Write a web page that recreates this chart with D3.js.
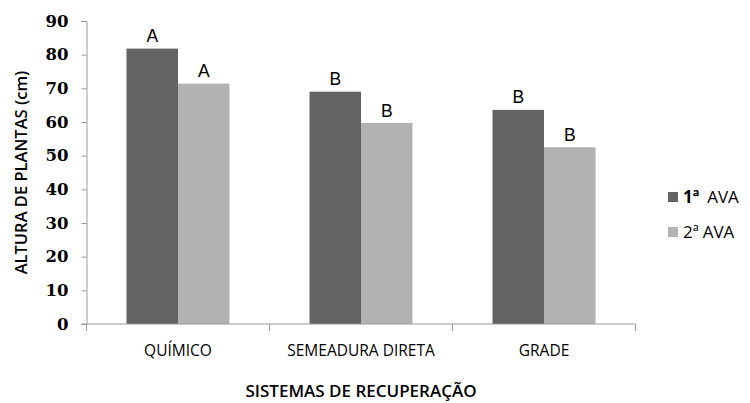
<!DOCTYPE html>
<html><head><meta charset="utf-8">
<script src="https://cdn.jsdelivr.net/npm/d3@7"></script>
<style>body{margin:0;background:#fff}svg{display:block}</style>
</head><body>
<svg id="c" width="750" height="403"></svg>
<script>
const categories = ["QUÍMICO", "SEMEADURA DIRETA", "GRADE"];
const seriesNames = ["1ª AVA", "2ª AVA"];
const ava1 = [81.8, 69.0, 63.6];
const ava2 = [71.4, 59.7, 52.5];
const letters1 = ["A", "B", "B"];
const letters2 = ["A", "B", "B"];
const yTicks = [0, 10, 20, 30, 40, 50, 60, 70, 80, 90];
const colors = ["#636363", "#b2b2b2"];

const svg = d3.select("#c");
const L = 86.5, R = 635.5, T = 21, B = 324;
const x0 = d3.scaleBand().domain(categories).range([L, R]).padding(0);
const x1 = d3.scaleBand().domain(seriesNames).range([0, x0.bandwidth()]).paddingInner(0).paddingOuter(0.777);
const y = d3.scaleLinear().domain([0, 90]).range([B, T]);
const axisCol = "#9a9a9a";

// y axis
const ya = svg.append("g").attr("transform", `translate(${L},0)`)
  .call(d3.axisLeft(y).tickValues(yTicks).tickSize(5).tickPadding(13).tickFormat(d3.format("d")));
ya.select(".domain").attr("stroke", axisCol);
ya.selectAll(".tick line").attr("stroke", axisCol);
ya.selectAll(".tick text").attr("font-family", "DejaVu Serif").attr("font-weight", "bold")
  .attr("font-size", 16.5).attr("fill", "#000");

// bars
const data = categories.map((c, i) => ({c, v: [ava1[i], ava2[i]], l: [letters1[i], letters2[i]]}));
const g = svg.append("g");
data.forEach(d => {
  seriesNames.forEach((s, j) => {
    g.append("rect").attr("x", x0(d.c) + x1(s)).attr("y", y(d.v[j]))
      .attr("width", x1.bandwidth()).attr("height", y(0) - y(d.v[j])).attr("fill", colors[j]);
    g.append("text").attr("x", x0(d.c) + x1(s) + x1.bandwidth() / 2).attr("y", y(d.v[j]) - 6.5)
      .attr("text-anchor", "middle").attr("font-family", "Liberation Sans").attr("font-size", 17.5)
      .attr("fill", "#000").text(d.l[j]);
  });
});

// x axis
const xa = svg.append("g").attr("transform", `translate(0,${B})`)
  .call(d3.axisBottom(x0).tickSize(0).tickPadding(21));
xa.select(".domain").remove();
xa.selectAll(".tick text").attr("font-family", "Open Sans").attr("font-size", 15.5).attr("fill", "#000");
svg.append("line").attr("x1", L - 5).attr("x2", R).attr("y1", B).attr("y2", B).attr("stroke", axisCol);
const bounds = categories.map(c => x0(c)).concat([x0(categories[categories.length - 1]) + x0.bandwidth()]);
svg.selectAll(".xt").data(bounds).enter().append("line")
  .attr("x1", d => d).attr("x2", d => d).attr("y1", B).attr("y2", B + 7).attr("stroke", axisCol);

// axis titles
svg.append("text").attr("transform", `translate(27,${(T + B) / 2}) rotate(-90)`)
  .attr("text-anchor", "middle").attr("font-family", "Open Sans").attr("font-weight", 600)
  .attr("font-size", 16.5).attr("fill", "#000").text("ALTURA DE PLANTAS (cm)");
svg.append("text").attr("x", (L + R) / 2).attr("y", 397)
  .attr("text-anchor", "middle").attr("font-family", "Open Sans").attr("font-weight", 600)
  .attr("font-size", 17).attr("fill", "#000").text("SISTEMAS DE RECUPERAÇÃO");

// legend
const lg = svg.append("g");
seriesNames.forEach((s, j) => {
  const cy = 197 + j * 35;
  lg.append("rect").attr("x", 668).attr("y", cy - 5).attr("width", 10).attr("height", 10).attr("fill", colors[j]);
  const t = lg.append("text").attr("x", 683).attr("y", cy + 6).attr("font-family", "Open Sans")
    .attr("font-size", 17).attr("fill", "#000");
  const parts = s.split(" ");
  t.append("tspan").attr("font-weight", j === 0 ? "bold" : "normal").text(parts[0]);
  t.append("tspan").attr("dx", j === 0 ? 8 : 4).text(parts[1]);
});
</script>
</body></html>
